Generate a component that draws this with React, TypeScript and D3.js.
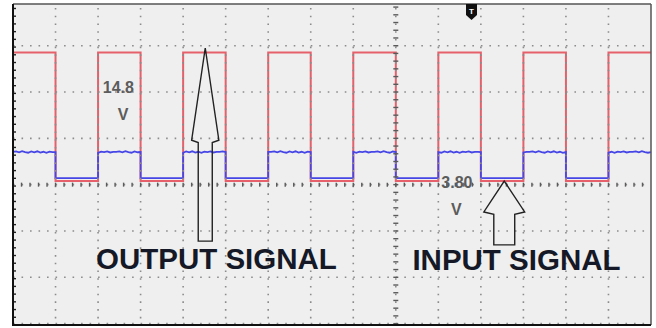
import React from 'react';
import * as d3 from 'd3';

const W = 656;
const H = 328;

// screen: 15 horizontal divisions, grid rows in vertical divisions around the centre line
const gridCols = d3.range(1, 15);
const gridRows = [3, 2, 1, 0, -1, -2, -3];
const centerCol = 9;
const centerRow = 0;

// state of the square wave in each horizontal division (1 = high)
const states = [1, 0, 1, 0, 1, 0, 1, 0, 1, 0, 1, 0, 1, 0, 1];

// trace levels in volts
const outputLevels = [0, 14.8];
const inputLevels = [0, 3.8];

// ripple on the input trace while high (volts)
const inputRipple = [0.02, 0.1, -0.05, 0.12, 0.0, -0.1, 0.08, -0.03, 0.11, -0.08, 0.04, -0.12, 0.06, 0.0, 0.09, -0.06, 0.03];

// channel settings: ground offset (div) and volts per division
const outputChannel = {offset: 0.08, voltsPerDiv: 5.34, color: '#e5606b'};
const inputChannel = {offset: 0.14, voltsPerDiv: 6.74, color: '#4646e6'};

// trigger position (div)
const triggerAt = 10.78;

// labels, in division units
const valueLabels = [
    {text: '14.8', x: 2.11, y: 1.98},
    {text: 'V', x: 2.46, y: 1.395},
    {text: '3.80', x: 10.07, y: -0.07},
    {text: 'V', x: 10.3, y: -0.66},
];
const signalLabels = [
    {text: 'OUTPUT SIGNAL', x: 1.95, y: -1.82},
    {text: 'INPUT SIGNAL', x: 9.39, y: -1.84},
];

// hollow arrows: tip, neck and tail in div, half widths in div
const arrows = [
    {x: 4.52, tip: 2.95, neck: 0.96, tail: -1.22, head: 0.32, shaft: 0.165},
    {x: 11.55, tip: 0.078, neck: -0.59, tail: -1.30, head: 0.48, shaft: 0.246},
];

const xs = d3.scaleLinear().domain([0, 15]).range([13, 651]);
const ys = d3.scaleLinear().domain([-3.03, 3.9]).range([325, 4]);

const minorX = (xs(1) - xs(0)) / 5;
const minorY = (ys(0) - ys(1)) / 6;

const toDiv = (ch, v) => ch.offset + v / ch.voltsPerDiv;

const outputPoints = () => {
    const pts = [];
    states.forEach((s, i) => {
        const v = toDiv(outputChannel, outputLevels[s]);
        pts.push([i, v], [i + 1, v]);
    });
    return pts;
};

const inputPoints = () => {
    const pts = [];
    const n = 14;
    states.forEach((s, i) => {
        const v = inputLevels[s];
        for (let j = 0; j < n; j++) {
            const r = s ? inputRipple[(i * n + j) % inputRipple.length] : 0;
            pts.push([i + j / n, toDiv(inputChannel, v + r)]);
        }
        pts.push([i + 1, toDiv(inputChannel, v)]);
    });
    return pts;
};

const line = d3.line().x(d => xs(d[0])).y(d => ys(d[1]));

export default function App() {
    const top = ys(3.9);
    const bottom = ys(-3.03);
    const left = xs(0);
    const right = xs(15);

    const leftTicks = d3.range(bottom, top, -minorY);
    const centerVTicks = d3.range(ys(-3), top, -minorY);
    const centerHTicks = d3.range(left + minorX, right, minorX);

    const arrowPath = a => {
        const p = [
            [a.x, a.tip], [a.x + a.head, a.neck], [a.x + a.shaft, a.neck - 0.05],
            [a.x + a.shaft, a.tail], [a.x - a.shaft, a.tail], [a.x - a.shaft, a.neck - 0.05],
            [a.x - a.head, a.neck],
        ];
        return 'M' + p.map(d => `${xs(d[0])},${ys(d[1])}`).join('L') + 'Z';
    };

    const tx = xs(triggerAt);

    return (
        <svg width={W} height={H} style={{position: 'absolute', left: 0, top: 0}}>
            <rect width={W} height={H} fill="#fff"/>
            <rect x={left} y={top} width={right - left} height={bottom - top} fill="#efefef"/>

            <path d={line(outputPoints())} fill="none" stroke={outputChannel.color} strokeWidth={2}/>
            <path d={line(inputPoints())} fill="none" stroke={inputChannel.color} strokeWidth={1.8}/>

            <g stroke="#8c8c8c" strokeWidth={1.6}>
                {gridCols.map(c => (
                    <line key={'c' + c} x1={xs(c)} x2={xs(c)} y1={top + 4} y2={bottom}
                          strokeDasharray={`1.6 ${minorY - 1.6}`}/>
                ))}
                {gridRows.map(r => (
                    <line key={'r' + r} x1={left} x2={right} y1={ys(r)} y2={ys(r)}
                          strokeDasharray={`1.6 ${minorX - 1.6}`}/>
                ))}
            </g>
            <g stroke="#5a5a5a" strokeWidth={1.4}>
                {centerVTicks.map((y, i) => (
                    <line key={'v' + i} x1={xs(centerCol) - 2.5} x2={xs(centerCol) + 2.5} y1={y} y2={y}/>
                ))}
                {centerHTicks.map((x, i) => (
                    <line key={'h' + i} x1={x} x2={x} y1={ys(centerRow) - 2} y2={ys(centerRow) + 2}/>
                ))}
                {leftTicks.map((y, i) => (
                    <line key={'l' + i} x1={left} x2={left + 3} y1={y} y2={y} stroke="#222"/>
                ))}
            </g>

            <line x1={left} x2={right} y1={top} y2={top} stroke="#555" strokeWidth={1.5}/>
            <line x1={right} x2={right} y1={top} y2={bottom} stroke="#555" strokeWidth={1.5}/>
            <line x1={left} x2={right} y1={bottom} y2={bottom} stroke="#111" strokeWidth={2}/>
            <line x1={left} x2={left} y1={top} y2={bottom + 1} stroke="#111" strokeWidth={2}/>

            <path d={`M${tx - 5.5},${top}L${tx + 5.5},${top}L${tx + 5.5},${top + 11}L${tx},${top + 16}L${tx - 5.5},${top + 11}Z`}
                  fill="#111"/>
            <text x={tx} y={top + 10} textAnchor="middle" fontSize={8} fontWeight="bold" fill="#fff"
                  fontFamily="Liberation Sans, Arial, sans-serif">T</text>

            {arrows.map((a, i) => (
                <path key={i} d={arrowPath(a)} fill="none" stroke="#222" strokeWidth={1.4}
                      strokeLinejoin="miter"/>
            ))}

            {valueLabels.map((l, i) => (
                <text key={i} x={xs(l.x)} y={ys(l.y)} fontSize={16} fontWeight="bold" fill="#5c5c5c"
                      fontFamily="Liberation Sans, Arial, sans-serif">{l.text}</text>
            ))}
            {signalLabels.map((l, i) => (
                <text key={i} x={xs(l.x)} y={ys(l.y)} fontSize={29.5} fontWeight="bold" fill="#151826"
                      fontFamily="Liberation Sans, Arial, sans-serif">{l.text}</text>
            ))}
        </svg>
    );
}
